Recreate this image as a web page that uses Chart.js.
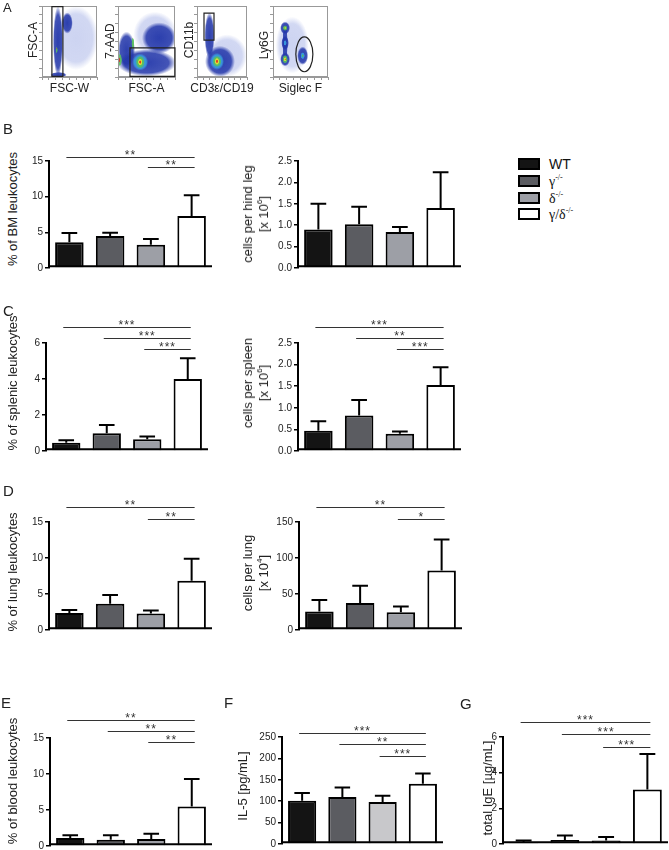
<!DOCTYPE html>
<html>
<head>
<meta charset="utf-8">
<script src="https://cdn.jsdelivr.net/npm/chart.js@4.4.0/dist/chart.umd.min.js"></script>
<style>
  body { margin: 0; background: #fff; font-family: "Liberation Sans", Arial, sans-serif; }
  #fig { position: relative; width: 669px; height: 850px; overflow: hidden; }
  canvas { position: absolute; }
  .t { position: absolute; white-space: nowrap; color: #222; font-size: 13px; line-height: 16px; }
  .rot { transform: translate(-50%, -50%) rotate(-90deg); text-align: center; }
  .mid { transform: translate(-50%, -50%); }
  .letter { position: absolute; font-size: 15px; line-height: 15px; color: #222; }
  .sw { position: absolute; width: 22px; height: 12px; box-sizing: border-box; border: 2px solid #000; }
  .lg { position: absolute; font-size: 14px; line-height: 14px; color: #111; transform: translateY(-50%); }
  .gr { font-family: "Liberation Serif", "DejaVu Serif", serif; }
  sup { font-size: 8px; vertical-align: 6px; line-height: 0; }
</style>
</head>
<body>
<div id="fig"></div>
<script>
// groups
const groups = ['WT', 'γ', 'δ', 'γ/δ'];
const knockout = [false, true, true, true];

// B - bone marrow
const bmPct = [3.6, 4.5, 3.25, 7.3];
const bmPctSem = [1.3, 0.45, 0.8, 2.9];
const bmPctSig = [[0, 3, '**'], [2, 3, '**']];
const bmPctTicks = ['0', '5', '10', '15'];
const bmCells = [0.9, 1.02, 0.84, 1.4];
const bmCellsSem = [0.6, 0.41, 0.12, 0.84];
const bmCellsSig = [];
const bmCellsTicks = ['0.0', '0.5', '1.0', '1.5', '2.0', '2.5'];

// C - spleen
const spPct = [0.46, 0.99, 0.65, 4.0];
const spPctSem = [0.14, 0.46, 0.15, 1.15];
const spPctSig = [[0, 3, '***'], [1, 3, '***'], [2, 3, '***']];
const spPctTicks = ['0', '2', '4', '6'];
const spCells = [0.47, 0.82, 0.4, 1.53];
const spCellsSem = [0.22, 0.36, 0.05, 0.41];
const spCellsSig = [[0, 3, '***'], [1, 3, '**'], [2, 3, '***']];
const spCellsTicks = ['0.0', '0.5', '1.0', '1.5', '2.0', '2.5'];

// D - lung
const luPct = [2.35, 3.65, 2.3, 6.85];
const luPctSem = [0.42, 1.2, 0.42, 3.05];
const luPctSig = [[0, 3, '**'], [2, 3, '**']];
const luPctTicks = ['0', '5', '10', '15'];
const luCells = [25.8, 37.4, 24.5, 82.6];
const luCellsSem = [16, 24, 8, 43];
const luCellsSig = [[0, 3, '**'], [2, 3, '*']];
const luCellsTicks = ['0', '50', '100', '150'];

// E - blood
const blPct = [1.1, 0.88, 0.97, 5.5];
const blPctSem = [0.4, 0.6, 0.73, 3.8];
const blPctSig = [[0, 3, '**'], [1, 3, '**'], [2, 3, '**']];
const blPctTicks = ['0', '5', '10', '15'];

// F - IL-5
const il5 = [101, 110, 98, 141];
const il5Sem = [18, 22, 15, 24];
const il5Sig = [[0, 3, '***'], [1, 3, '**'], [2, 3, '***']];
const il5Ticks = ['0', '50', '100', '150', '200', '250'];

// G - IgE
const ige = [0.11, 0.22, 0.2, 3.05];
const igeSem = [0.08, 0.26, 0.19, 2.0];
const igeSig = [[0, 3, '***'], [1, 3, '***'], [2, 3, '***']];
const igeTicks = ['0', '2', '4', '6'];

// A - gating plots, density blobs [x, y, rx, ry, level] in % of axis (level 5 = sparse events)
const fscBlobs = [[62, 55, 40, 45, 5], [30, 3, 15, 4, 0], [29, 50, 9, 50, 0], [46, 76, 10, 15, 0], [27, 38, 1.5, 5, 2], [27, 40, 0.8, 2, 4]];
const fscGate = [18, 1, 38, 99];
const aadBlobs = [[65, 60, 38, 32, 5], [72, 55, 30, 22, 0], [15, 38, 15, 26, 0], [50, 20, 52, 19, 0], [39, 21, 14, 12, 1], [39, 21, 8, 9, 2],
  [39, 21, 4, 5, 3], [39, 21, 2, 2.5, 4], [26, 47, 2.5, 9, 2], [3, 24, 4, 9, 2], [2, 24, 1.5, 4, 4]];
const aadGate = [21, 1, 100, 41];
const cdBlobs = [[60, 30, 40, 30, 5], [25, 58, 10, 33, 0], [46, 22, 30, 22, 0], [40, 22, 14, 12, 1], [40, 22, 9, 8, 2],
  [40, 22, 4.5, 5, 3], [40, 22, 2, 2.5, 4]];
const cdGate = [14, 52, 34, 90];
const sigBlobs = [[35, 45, 30, 40, 5], [22, 47, 5, 28, 0], [22, 69, 9, 9, 0], [22, 69, 4, 4, 2], [22, 69, 1.5, 1.5, 3], [22, 48, 7, 10, 0],
  [22, 48, 3, 4, 1], [22, 25, 9, 10, 0], [22, 25, 5, 6, 2], [22, 25, 2.5, 3, 3], [22, 25, 1.2, 1.5, 4], [54, 30, 10, 13, 0],
  [54, 30, 4, 5, 1], [54, 30, 2, 2, 2]];
const sigGate = [57, 32, 15.5, 24.6];

const FONT = '"Liberation Sans", Arial, sans-serif';
const groupColors = ['#141414', '#5b5c61', '#9d9fa6', '#ffffff'];
const levelColors = ['35,55,170', '57,160,224', '88,194,92', '240,224,48', '224,42,29', '110,130,215'];

const fig = document.getElementById('fig');

function makeCanvas(l, t, w, h) {
  const c = document.createElement('canvas');
  c.width = w; c.height = h;
  c.style.left = l + 'px'; c.style.top = t + 'px';
  c.style.width = w + 'px'; c.style.height = h + 'px';
  fig.appendChild(c);
  return c;
}

function addDiv(cls, html, x, y, extra) {
  const d = document.createElement('div');
  d.className = cls;
  d.innerHTML = html;
  d.style.left = x + 'px';
  d.style.top = y + 'px';
  if (extra) Object.assign(d.style, extra);
  fig.appendChild(d);
  return d;
}

function drawExtras(ch, p) {
  const ctx = ch.ctx, meta = ch.getDatasetMeta(0), y = ch.scales.y, a = ch.chartArea;
  ctx.save();
  ctx.strokeStyle = '#000';
  ctx.lineWidth = 2;
  // x axis line along the bar bases
  const base = meta.data[0].base - 1;
  ctx.beginPath();
  ctx.moveTo(a.left - 1, base);
  ctx.lineTo(a.right, base);
  ctx.stroke();
  meta.data.forEach((bar, i) => {
    const top = y.getPixelForValue(p.vals[i] + p.sem[i]);
    const cap = bar.width * 0.55;
    ctx.beginPath();
    ctx.moveTo(bar.x, bar.y);
    ctx.lineTo(bar.x, top);
    ctx.moveTo(bar.x - cap / 2, top);
    ctx.lineTo(bar.x + cap / 2, top);
    ctx.stroke();
  });
  ctx.lineWidth = 1.2;
  ctx.strokeStyle = '#333';
  ctx.fillStyle = '#333';
  ctx.font = '12px ' + FONT;
  ctx.textAlign = 'center';
  ctx.textBaseline = 'alphabetic';
  if ('letterSpacing' in ctx) ctx.letterSpacing = '1px';
  p.sig.forEach((s, k) => {
    const ly = Math.round(a.top + p.sigY[k]) + 0.5;
    const xa = meta.data[s[0]].x - 3, xb = meta.data[s[1]].x + 3;
    ctx.beginPath();
    ctx.moveTo(xa, ly);
    ctx.lineTo(xb, ly);
    ctx.stroke();
    ctx.fillText(s[2], (xa + xb) / 2, ly + 1.5);
  });
  ctx.restore();
}

function barChart(p) {
  const [x0, x1, yT, yB] = p.box;
  const yw = 28, padTop = 32, padR = 2, padB = 8;
  const w = x1 - x0 + yw + padR, h = yB - yT + padTop + padB;
  const c = makeCanvas(x0 - yw, yT - padTop, w, h);
  const tv = p.ticks.map(Number);
  new Chart(c, {
    type: 'bar',
    data: {
      labels: groups,
      datasets: [{
        data: p.vals,
        backgroundColor: p.colors || groupColors,
        borderColor: '#000',
        borderWidth: 2,
        borderSkipped: 'bottom',
        inflateAmount: 0,
        barPercentage: 0.7,
        categoryPercentage: 1
      }]
    },
    options: {
      responsive: false,
      animation: false,
      events: [],
      layout: { padding: { top: padTop, right: padR, bottom: padB, left: 0 } },
      plugins: { legend: { display: false }, tooltip: { enabled: false } },
      scales: {
        x: {
          grid: { display: false },
          ticks: { display: false },
          border: { display: false },
          afterFit: s => { s.height = 0; }
        },
        y: {
          min: tv[0],
          max: tv[tv.length - 1],
          afterBuildTicks: s => { s.ticks = tv.map(v => ({ value: v })); },
          ticks: { callback: (v, i) => p.ticks[i], font: { size: 10, family: FONT }, color: '#222', padding: 2 },
          grid: { drawOnChartArea: false, drawTicks: true, tickLength: 4, color: '#000', lineWidth: 1.5 },
          border: { color: '#000', width: 2 },
          afterFit: s => { s.width = yw; }
        }
      }
    },
    plugins: [{ id: 'extras', afterDatasetsDraw: ch => drawExtras(ch, p) }]
  });
  addDiv('t rot', p.title.join('<br>'), p.tx, p.ty);
}

function drawBlobs(ch, blobs) {
  const ctx = ch.ctx, xs = ch.scales.x, ys = ch.scales.y, a = ch.chartArea;
  ctx.save();
  ctx.beginPath();
  ctx.rect(a.left, a.top, a.right - a.left, a.bottom - a.top);
  ctx.clip();
  blobs.forEach(b => {
    const px = xs.getPixelForValue(b[0]), py = ys.getPixelForValue(b[1]);
    const rx = Math.abs(xs.getPixelForValue(b[0] + b[2]) - px);
    const ry = Math.abs(ys.getPixelForValue(b[1] + b[3]) - py);
    const col = levelColors[b[4]];
    ctx.save();
    ctx.translate(px, py);
    ctx.scale(rx, ry);
    const g = ctx.createRadialGradient(0, 0, 0, 0, 0, 1);
    const a0 = b[4] === 5 ? 0.35 : 0.95;
    g.addColorStop(0, 'rgba(' + col + ',' + a0 + ')');
    g.addColorStop(0.75, 'rgba(' + col + ',' + (a0 * 0.9) + ')');
    g.addColorStop(1, 'rgba(' + col + ',0)');
    ctx.fillStyle = g;
    ctx.beginPath();
    ctx.arc(0, 0, 1, 0, Math.PI * 2);
    ctx.fill();
    ctx.restore();
  });
  ctx.restore();
}

function drawGate(ch, gate, ellipse) {
  const ctx = ch.ctx, xs = ch.scales.x, ys = ch.scales.y, a = ch.chartArea;
  ctx.save();
  ctx.strokeStyle = '#999';
  ctx.lineWidth = 1;
  ctx.strokeRect(a.left + 0.5, a.top + 0.5, a.right - a.left - 1, a.bottom - a.top - 1);
  ctx.strokeStyle = '#222';
  ctx.lineWidth = 1.2;
  ctx.beginPath();
  if (ellipse) {
    const px = xs.getPixelForValue(gate[0]), py = ys.getPixelForValue(gate[1]);
    const rx = Math.abs(xs.getPixelForValue(gate[0] + gate[2]) - px);
    const ry = Math.abs(ys.getPixelForValue(gate[1] + gate[3]) - py);
    ctx.ellipse(px, py, rx, ry, 0, 0, Math.PI * 2);
  } else {
    const xa = xs.getPixelForValue(gate[0]), xb = xs.getPixelForValue(gate[2]);
    const ya = ys.getPixelForValue(gate[1]), yb = ys.getPixelForValue(gate[3]);
    ctx.rect(xa, yb, xb - xa, ya - yb);
  }
  ctx.stroke();
  ctx.restore();
}

function flowPlot(f) {
  const [x0, x1, y0, y1] = f.box;
  const c = makeCanvas(x0 - 3, y0 - 1, x1 - x0 + 4, y1 - y0 + 4);
  const axis = {
    min: 0, max: 100,
    ticks: { display: false, stepSize: 12.5 },
    grid: { drawOnChartArea: false, tickLength: 3, color: '#999' },
    border: { color: '#999' }
  };
  new Chart(c, {
    type: 'scatter',
    data: { datasets: [{ data: f.blobs.map(b => ({ x: b[0], y: b[1] })), pointRadius: 0 }] },
    options: {
      responsive: false, animation: false, events: [],
      layout: { padding: { top: 1, right: 1, left: 0, bottom: 0 } },
      plugins: { legend: { display: false }, tooltip: { enabled: false } },
      scales: {
        x: Object.assign({}, axis, { afterFit: s => { s.height = 3; } }),
        y: Object.assign({}, axis, { afterFit: s => { s.width = 3; } })
      }
    },
    plugins: [{
      id: 'flow',
      beforeDatasetsDraw: ch => drawBlobs(ch, f.blobs),
      afterDraw: ch => drawGate(ch, f.gate, f.ellipse)
    }]
  });
  addDiv('t rot', f.yl, f.ylx, f.yly, { fontSize: '12px' });
  addDiv('t mid', f.xl, (x0 + x1) / 2, 88, { fontSize: '12px' });
}

// panel A
flowPlot({ box: [42, 97, 6, 77], blobs: fscBlobs, gate: fscGate, yl: 'FSC-A', ylx: 33, yly: 40, xl: 'FSC-W' });
flowPlot({ box: [118, 175, 6, 77], blobs: aadBlobs, gate: aadGate, yl: '7-AAD', ylx: 110, yly: 41, xl: 'FSC-A' });
flowPlot({ box: [197, 247, 6, 77], blobs: cdBlobs, gate: cdGate, yl: 'CD11b', ylx: 189, yly: 40, xl: 'CD3ε/CD19' });
flowPlot({ box: [273, 328, 6, 77], blobs: sigBlobs, gate: sigGate, ellipse: true, yl: 'Ly6G', ylx: 264, yly: 45, xl: 'Siglec F' });

// bar panels
const cellsTitle = (organ, exp) => ['cells per ' + organ, '[x 10<sup>' + exp + '</sup>]'];
barChart({ vals: bmPct, sem: bmPctSem, sig: bmPctSig, ticks: bmPctTicks, box: [49, 212, 161, 268], sigY: [-4, 6], title: ['% of BM leukocytes'], tx: 13, ty: 209 });
barChart({ vals: bmCells, sem: bmCellsSem, sig: bmCellsSig, ticks: bmCellsTicks, box: [298, 461, 161, 268], sigY: [], title: cellsTitle('hind leg', 6), tx: 256, ty: 214 });
barChart({ vals: spPct, sem: spPctSem, sig: spPctSig, ticks: spPctTicks, box: [46, 208, 343, 451], sigY: [-16, -5, 6], title: ['% of splenic leukocytes'], tx: 13, ty: 383 });
barChart({ vals: spCells, sem: spCellsSem, sig: spCellsSig, ticks: spCellsTicks, box: [298, 461, 343, 451], sigY: [-16, -5, 6], title: cellsTitle('spleen', 6), tx: 256, ty: 383 });
barChart({ vals: luPct, sem: luPctSem, sig: luPctSig, ticks: luPctTicks, box: [49, 212, 522, 630], sigY: [-15, -3], title: ['% of lung leukocytes'], tx: 13, ty: 572 });
barChart({ vals: luCells, sem: luCellsSem, sig: luCellsSig, ticks: luCellsTicks, box: [299, 462, 522, 630], sigY: [-15, -3], title: cellsTitle('lung', 4), tx: 256, ty: 573 });
barChart({ vals: blPct, sem: blPctSem, sig: blPctSig, ticks: blPctTicks, box: [50, 212, 738, 846], sigY: [-18, -7, 4], title: ['% of blood leukocytes'], tx: 13, ty: 781 });
barChart({ vals: il5, sem: il5Sem, sig: il5Sig, ticks: il5Ticks, box: [282, 443, 737, 844], sigY: [-4, 7, 19], title: ['IL-5 [pg/mL]'], tx: 243, ty: 786,
  colors: ['#141414', '#5b5c61', '#c8c8cb', '#ffffff'] });
barChart({ vals: ige, sem: igeSem, sig: igeSig, ticks: igeTicks, box: [503, 668, 737, 844], sigY: [-15, -3, 10], title: ['total IgE [µg/mL]'], tx: 488, ty: 788,
  colors: ['#141414', '#5b5c61', '#8e8f93', '#ffffff'] });

// legend
const legendTops = [158, 175, 192, 208];
groups.forEach((g, i) => {
  addDiv('sw', '', 518, legendTops[i], { background: groupColors[i] });
  const label = knockout[i] ? '<span class="gr">' + g + '<sup>-/-</sup></span>' : g;
  addDiv('lg', label, 549, legendTops[i] + 6);
});

// panel letters
[['A', 3, 1, 13], ['B', 3, 121, 15], ['C', 3, 303, 15], ['D', 3, 483, 15], ['E', 1, 695, 15], ['F', 224, 695, 15], ['G', 460, 696, 15]]
  .forEach(l => addDiv('letter', l[0], l[1], l[2], { fontSize: l[3] + 'px', lineHeight: l[3] + 'px' }));
</script>
</body>
</html>
